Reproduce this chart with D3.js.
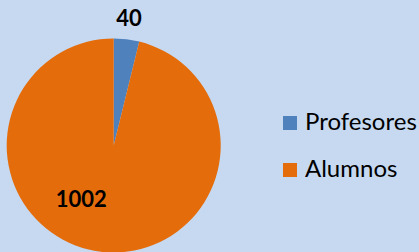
<!DOCTYPE html>
<html>
<head>
<meta charset="utf-8">
<script src="https://cdn.jsdelivr.net/npm/d3@7"></script>
<style>
  html, body { margin: 0; padding: 0; background: #c6d9f1; }
  svg { display: block; }
</style>
</head>
<body>
<svg width="419" height="252"></svg>
<script>
var categories = ['Profesores', 'Alumnos'];
var values = [40, 1002];
var colors = ['#4f81bd', '#e46c0a'];

var svg = d3.select('svg'),
  width = +svg.attr('width'),
  height = +svg.attr('height');

var cx = 113.7,
  cy = 145.5,
  radius = 107;

var data = categories.map(function(c, i) {
  return { name: c, value: values[i], color: colors[i] };
});

var pie = d3.pie()
  .sort(null)
  .value(function(d) { return d.value; });

var arcs = pie(data);

var arc = d3.arc().innerRadius(0).outerRadius(radius);

var g = svg.append('g')
  .attr('transform', 'translate(' + cx + ',' + cy + ')');

g.selectAll('path')
  .data(arcs)
  .enter()
  .append('path')
  .attr('d', arc)
  .attr('fill', function(d) { return d.data.color; });

// label placement: radius and angle shift per slice (best fit as in the original)
var labelPos = [
  { r: 128, shift: 0 },
  { r: 63, shift: 0.42 }
];

g.selectAll('text.lbl')
  .data(arcs)
  .enter()
  .append('text')
  .attr('class', 'lbl')
  .attr('x', function(d, i) {
    var a = (d.startAngle + d.endAngle) / 2 + labelPos[i].shift;
    return Math.sin(a) * labelPos[i].r;
  })
  .attr('y', function(d, i) {
    var a = (d.startAngle + d.endAngle) / 2 + labelPos[i].shift;
    return -Math.cos(a) * labelPos[i].r;
  })
  .attr('dy', '0.35em')
  .attr('text-anchor', 'middle')
  .attr('font-family', 'Lato, sans-serif')
  .attr('font-weight', 'bold')
  .attr('font-size', 22)
  .attr('fill', '#000')
  .text(function(d) { return d.data.value; });

// legend
var legend = svg.append('g')
  .attr('transform', 'translate(283,116)');

var item = legend.selectAll('g')
  .data(data)
  .enter()
  .append('g')
  .attr('transform', function(d, i) { return 'translate(0,' + i * 47 + ')'; });

item.append('rect')
  .attr('width', 14)
  .attr('height', 14)
  .attr('fill', function(d) { return d.color; });

item.append('text')
  .attr('x', 22)
  .attr('y', 13.5)
  .attr('font-family', 'Lato, sans-serif')
  .attr('font-size', 24)
  .attr('fill', '#000')
  .text(function(d) { return d.name; });
</script>
</body>
</html>
